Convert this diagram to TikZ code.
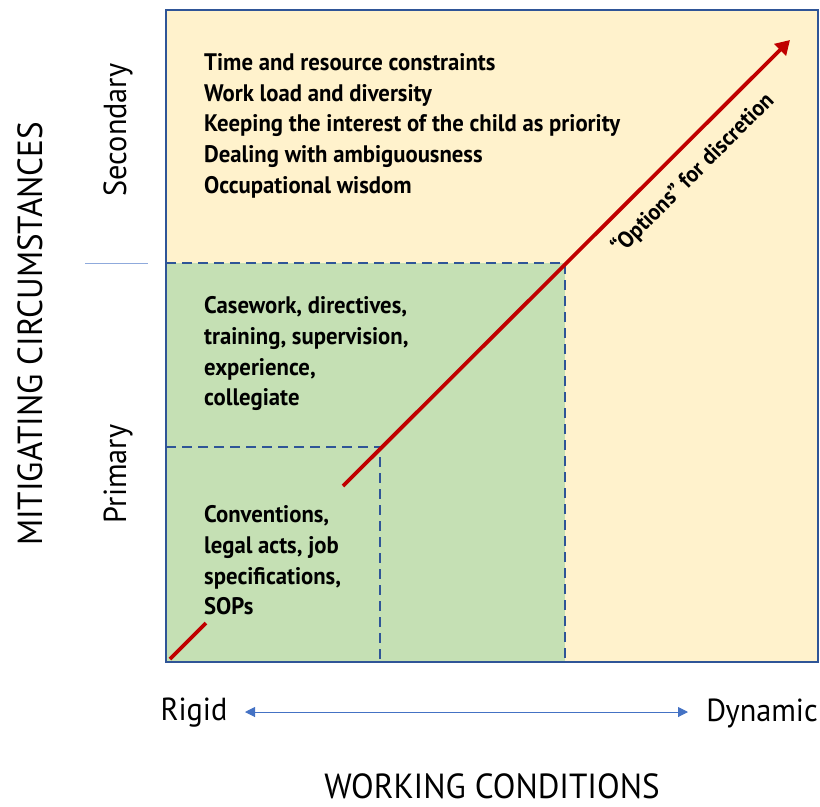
\documentclass[tikz,border=0pt]{standalone}
\usepackage{fontspec}
\setmainfont{PT Sans}[FakeStretch=0.95]
\usetikzlibrary{arrows.meta}
\definecolor{bgyellow}{HTML}{FFF2CC}
\definecolor{bggreen}{HTML}{C5E0B4}
\definecolor{frameblue}{HTML}{2F5597}
\definecolor{arrowred}{HTML}{C00000}
\definecolor{axisblue}{HTML}{4472C4}
\definecolor{tickblue}{HTML}{8FAADC}
\tikzset{
  body/.style={align=left, anchor=north west, inner sep=0pt, font=\fontsize{24}{31}\selectfont\bfseries},
  dashblue/.style={draw=frameblue, line width=2.6pt, dash pattern=on 10bp off 6bp},
  axislabel/.style={inner sep=0pt, font=\fontsize{32}{36}\selectfont},
  bigtitle/.style={inner sep=0pt, font=\fontsize{35}{38}\selectfont},
}
\begin{document}
\begin{tikzpicture}[x=1bp,y=-1bp]
\useasboundingbox (0,0) rectangle (820,807);
% regions
\fill[bgyellow] (166,10) rectangle (818,662);
\fill[bggreen] (166,263) rectangle (565,662);
\draw[dashblue] (166,263) -- (565,263) -- (565,662);
\draw[dashblue] (166,447) -- (380,447) -- (380,662);
\draw[frameblue, line width=2.8pt] (166,10) rectangle (818,662);
% red arrow
\coordinate (o) at (170,659);
\coordinate (g1) at (206,623);
\coordinate (g2) at (343,486);
\coordinate (tip) at (790,40);
\draw[arrowred, line width=3.8pt] (o) -- (g1);
\draw[arrowred, line width=3.8pt, -{Triangle[length=14bp,width=16bp]}] (g2) -- (tip);
\node[rotate=45, inner sep=0pt, font=\fontsize{23}{28}\selectfont\bfseries] (opt) at (693,174) {``Options'' for discretion};
% texts
\node[body] (sec) at (204,53) {Time and resource constraints\\Work load and diversity\\Keeping the interest of the child as priority\\Dealing with ambiguousness\\Occupational wisdom};
\node[body] (cas) at (204,296) {Casework, directives,\\training, supervision,\\experience,\\collegiate};
\node[body] (con) at (204,505) {Conventions,\\legal acts, job\\specifications,\\SOPs};
% left axis
\draw[tickblue, line width=1pt] (85,263) -- (148,263);
\node[axislabel, rotate=90] (secl) at (118,130) {Secondary};
\node[axislabel, rotate=90] (priml) at (118,474) {Primary};
\node[bigtitle, rotate=90] (mit) at (30,334) {MITIGATING CIRCUMSTANCES};
% bottom axis
\node[axislabel] (rigid) at (194,713) {Rigid};
\node[axislabel] (dyn) at (762,713) {Dynamic};
\draw[axisblue, line width=1pt, {Triangle[length=10bp,width=10bp]}-{Triangle[length=10bp,width=10bp]}] (245,712) -- (688,712);
\node[bigtitle] (work) at (492,786) {WORKING CONDITIONS};
\end{tikzpicture}
\end{document}
